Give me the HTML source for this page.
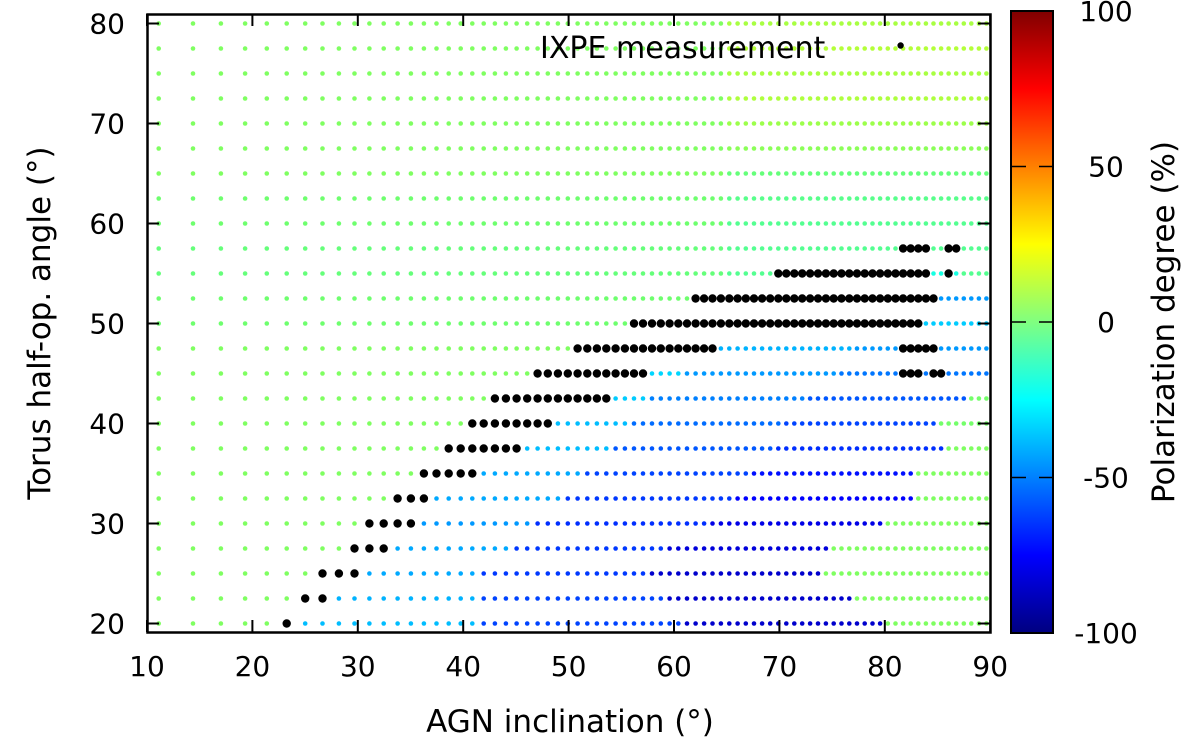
<!DOCTYPE html>
<html><head><meta charset="utf-8"><style>
html,body{margin:0;padding:0;background:#fff;}
svg{display:block;font-family:"DejaVu Sans","Liberation Sans",sans-serif;}
</style></head><body>
<svg id="chart" width="1200" height="751" viewBox="0 0 1200 751" xmlns="http://www.w3.org/2000/svg">
<defs>
<linearGradient id="cbgrad" x1="0" y1="1" x2="0" y2="0">
<stop offset="0" stop-color="#000080"/><stop offset="0.125" stop-color="#0000ff"/><stop offset="0.25" stop-color="#0080ff"/><stop offset="0.375" stop-color="#00ffff"/><stop offset="0.5" stop-color="#80ff80"/><stop offset="0.625" stop-color="#ffff00"/><stop offset="0.75" stop-color="#ff8000"/><stop offset="0.875" stop-color="#ff0000"/><stop offset="1" stop-color="#800000"/>
</linearGradient>
</defs>
<g id="points"></g>
<rect x="147.5" y="14.5" width="843" height="618" fill="none" stroke="#000" stroke-width="2.5"/>
<g id="axes"></g>
<text x="540" y="58" font-size="30">IXPE measurement</text>
<text x="570" y="732" font-size="31" text-anchor="middle">AGN inclination (°)</text>
<text transform="translate(50,323) rotate(-90)" font-size="31" text-anchor="middle">Torus half-op. angle (°)</text>
<rect x="1011" y="11" width="42" height="622" fill="url(#cbgrad)" stroke="#000" stroke-width="2"/>
<g id="cbticks"></g>
<text transform="translate(1174,322) rotate(-90)" font-size="31" text-anchor="middle">Polarization degree (%)</text>
</svg>
<script>
const rowTheta   = [20,22.5,25,27.5,30,32.5,35,37.5,40,42.5,45,47.5,50,52.5,55,57.5,60,62.5,65,67.5,70,72.5,75,77.5,80];
const obsStart   = [22.5,24.5,26,29,30.5,33,35.5,38,41,43,47,51,56.5,62,69.5,100,100,100,100,100,100,100,100,100,100];
const obsEnd     = [80,77,74,75,80,83,83,86,85,88,90,90,90,90,87,0,0,0,0,0,0,0,0,0,0];
const pNear      = [-38,-40,-42,-42,-45,-42,-42,-38,-38,-35,-33,-32,-30,-30,-25,0,0,0,0,0,0,0,0,0,0];
const pMid       = [-62,-62,-64,-64,-66,-64,-62,-58,-54,-50,-45,-40,-32,-32,-25,0,0,0,0,0,0,0,0,0,0];
const pFar       = [-85,-85,-85,-82,-80,-75,-72,-66,-62,-58,-52,-45,-35,-45,-20,0,0,0,0,0,0,0,0,0,0];
const greenLeft  = [3,3,3,3,3,3,3,3,3,3,3,3,0,0,-2,-2,0,0,3,3,3,3,3,3,3];
const greenRight = [3,3,3,3,3,3,3,3,1,1,0,0,-6,-6,-6,-6,-6,-5,-2,5,8,11,10,12,10];
const blackSegs  = [[[22.8,23.5]],[[24.5,27]],[[26,30]],[[29,33]],[[30.5,35]],[[33,37]],[[35.5,41]],[[38,45.5]],[[41,48.5]],[[43,53.5]],[[47,57.5],[82,83],[84.8,85.5]],[[51,64],[82,85]],[[56.5,83]],[[62,85]],[[69.5,84.3],[85.7,86.2]],[[81.5,83],[83.7,84.3],[86.3,86.8]],[],[],[],[],[],[],[],[],[]];
const xTicks = [10,20,30,40,50,60,70,80,90];
const yTicks = [20,30,40,50,60,70,80];
const cbTicks = [-100,-50,0,50,100];
const ixpeInc = 81.5, ixpeTheta = 77.8;

const NS="http://www.w3.org/2000/svg";
const xs = d => 147 + (d-10)*10.54;
const ys = t => 23.5 + (80-t)*10;
const cbY = v => 633 - (v+100)/200*622;
const stops=[[-100,[0,0,128]],[-75,[0,0,255]],[-50,[0,128,255]],[-25,[0,255,255]],[0,[110,255,110]],[25,[255,255,0]],[50,[255,128,0]],[75,[255,0,0]],[100,[128,0,0]]];
function cmap(v){v=Math.max(-100,Math.min(100,v));for(let i=0;i<stops.length-1;i++){const a=stops[i],b=stops[i+1];if(v<=b[0]){const f=(v-a[0])/(b[0]-a[0]);const c=a[1].map((x,j)=>Math.round(x+(b[1][j]-x)*f));return `rgb(${c[0]},${c[1]},${c[2]})`;}}return 'rgb(128,0,0)';}
function mk(tag,attrs,parent){const e=document.createElementNS(NS,tag);for(const k in attrs)e.setAttribute(k,attrs[k]);parent.appendChild(e);return e;}

const incl=[];
for(let k=0;k<80;k++){const d=Math.acos((k+0.5)/80)*180/Math.PI;if(d>=10.5)incl.push(d);}
const pg=document.getElementById('points');
rowTheta.forEach((th,r)=>{
  incl.forEach(d=>{
    let black=blackSegs[r].some(s=>d>=s[0]-0.3&&d<=s[1]+0.3);
    let v;
    if(d>=obsStart[r]&&d<=obsEnd[r]){const f=(d-obsStart[r])/(obsEnd[r]-obsStart[r]);v=f<0.33?pNear[r]:(f<0.66?pMid[r]:pFar[r]);}
    else v=d>65?greenRight[r]:greenLeft[r];
    const c=mk('circle',{cx:xs(d).toFixed(1),cy:ys(th),r:black?4.2:2.3,fill:black?'#000':cmap(v)},pg);
    
    
  });
});
const ix=mk('circle',{cx:xs(ixpeInc),cy:ys(ixpeTheta),r:3.2,fill:'#000'},pg);



const ax=document.getElementById('axes');
xTicks.forEach(t=>{
  const x=xs(t);
  mk('line',{x1:x,y1:632,x2:x,y2:620,stroke:'#000','stroke-width':2},ax);
  mk('line',{x1:x,y1:14,x2:x,y2:26,stroke:'#000','stroke-width':2},ax);
  const tx=mk('text',{x:x,y:676,'font-size':28,'text-anchor':'middle'},ax);
  tx.textContent=t;
  
  
});
yTicks.forEach(t=>{
  const y=ys(t);
  mk('line',{x1:147,y1:y,x2:159,y2:y,stroke:'#000','stroke-width':2},ax);
  mk('line',{x1:990,y1:y,x2:978,y2:y,stroke:'#000','stroke-width':2},ax);
  const tx=mk('text',{x:125,y:y+10,'font-size':28,'text-anchor':'end'},ax);
  tx.textContent=t;
  
  
});
const cb=document.getElementById('cbticks');
cbTicks.forEach(v=>{
  const y=cbY(v);
  if(v>-100&&v<100){
    mk('line',{x1:1011,y1:y,x2:1026,y2:y,stroke:'#000','stroke-width':1.5},cb);
    mk('line',{x1:1039,y1:y,x2:1053,y2:y,stroke:'#000','stroke-width':1.5},cb);
  }
  const tx=mk('text',{x:1106,y:y+10,'font-size':28,'text-anchor':'middle'},cb);
  tx.textContent=v;
  
  
});
</script>
</body></html>
